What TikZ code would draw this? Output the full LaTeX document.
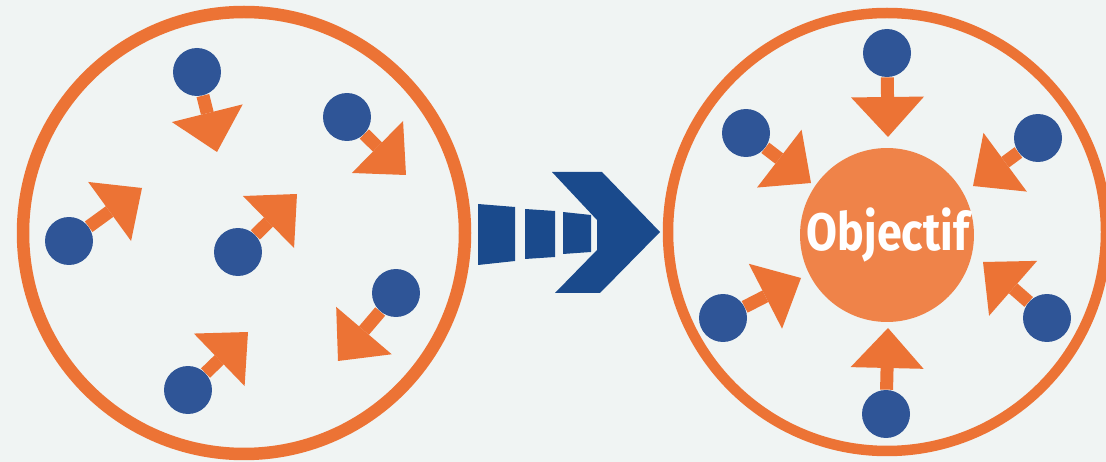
\documentclass[tikz,border=0pt]{standalone}
\usepackage{fontspec}
\newfontfamily\goalfont[FakeStretch=0.85]{Fira Sans}
\usetikzlibrary{arrows.meta}
\definecolor{bgGray}{RGB}{240,244,243}
\definecolor{ringOrange}{RGB}{236,115,53}
\definecolor{discOrange}{RGB}{239,131,73}
\definecolor{ballBlue}{RGB}{47,85,151}
\definecolor{chevBlue}{RGB}{26,74,140}
\tikzset{
  ball/.style={circle, fill=ballBlue, minimum size=0.96cm, inner sep=0pt},
  push/.style={ringOrange, line width=0.26cm, -{Triangle[length=0.8cm, width=1.46cm, line width=0pt]}},
  ring/.style={draw=ringOrange, line width=0.25cm},
}
\begin{document}
\begin{tikzpicture}[x=0.02cm, y=-0.02cm]
    % background
    \fill[bgGray] (0,0) rectangle (1106,462);
    \useasboundingbox (0,0) rectangle (1106,462);
    \clip (0,0) rectangle (1106,462);

    % scattered state (left ring)
    \draw[ring] (244,233) circle (221);
    \node[ball] (a1) at (197,72) {};
    \node[ball] (a2) at (347,117) {};
    \node[ball] (a3) at (69,241) {};
    \node[ball] (a4) at (238,252) {};
    \node[ball] (a5) at (396,293) {};
    \node[ball] (a6) at (188,390) {};
    \coordinate (ta1) at (217,152);
    \coordinate (ta2) at (406,175);
    \coordinate (ta3) at (142,188);
    \coordinate (ta4) at (297,194);
    \coordinate (ta5) at (338,361);
    \coordinate (ta6) at (248,332);
    \draw[push] (a1) -- (ta1);
    \draw[push] (a2) -- (ta2);
    \draw[push] (a3) -- (ta3);
    \draw[push] (a4) -- (ta4);
    \draw[push] (a5) -- (ta5);
    \draw[push] (a6) -- (ta6);

    % transition arrow: three blocks and a chevron
    \fill[chevBlue] (478,204) -- (515,207) -- (515,261) -- (478,265) -- cycle;
    \fill[chevBlue] (525,209) -- (555,211) -- (555,257) -- (525,259) -- cycle;
    \fill[chevBlue] (563,212) -- (591,215) -- (591,252) -- (563,254) -- cycle;
    \fill[chevBlue] (552,172) -- (602,172) -- (660,232) -- (600,293)
      -- (555,293) -- (597,250) -- (597,220) -- cycle;

    % aligned state (right ring)
    \draw[ring, line width=0.21cm] (887,232) circle (219);
    \node[circle, fill=discOrange, minimum size=3.48cm, inner sep=0pt] (goal) at (887,235) {};
    \node[white, anchor=base, inner sep=0pt] (goaltxt) at (888,251)
      {\goalfont\bfseries\fontsize{30}{30}\selectfont Objectif};
    \node[ball] (b1) at (887,53) {};
    \node[ball] (b2) at (746,133) {};
    \node[ball] (b3) at (1038,138) {};
    \node[ball] (b4) at (723,318) {};
    \node[ball] (b5) at (1047,318) {};
    \node[ball] (b6) at (886,414) {};
    \coordinate (tb1) at (888,137);
    \coordinate (tb2) at (811,183);
    \coordinate (tb3) at (973,186);
    \coordinate (tb4) at (801,278);
    \coordinate (tb5) at (983,262);
    \coordinate (tb6) at (888,328);
    \draw[push] (b1) -- (tb1);
    \draw[push] (b2) -- (tb2);
    \draw[push] (b3) -- (tb3);
    \draw[push] (b4) -- (tb4);
    \draw[push] (b5) -- (tb5);
    \draw[push] (b6) -- (tb6);
\end{tikzpicture}
\end{document}
